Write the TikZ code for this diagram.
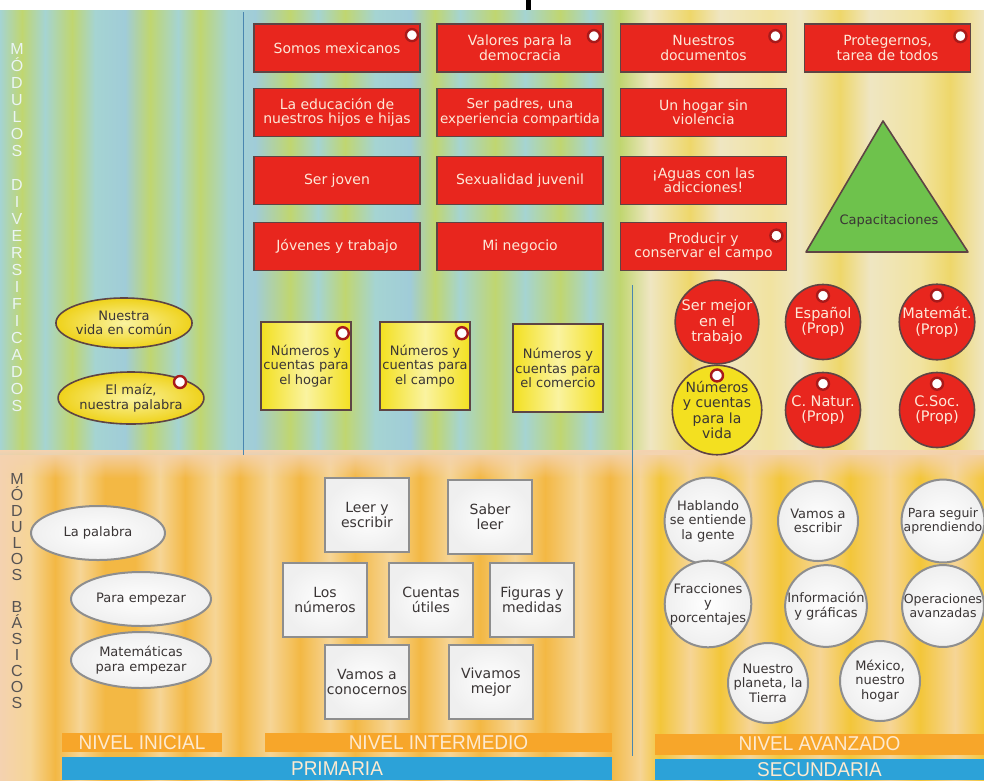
\documentclass[tikz,border=0pt]{standalone}
\usepackage{fontspec}
\setmainfont{DejaVu Sans}
\newfontfamily\barfont{Liberation Sans}[FakeStretch=0.95]
\newfontfamily\sidefont{Liberation Sans}
\usetikzlibrary{shapes.geometric,fadings}

% background tones
\definecolor{tealbg}{HTML}{A5D4D2}
\definecolor{bluebg}{HTML}{A0CCD8}
\definecolor{limebg}{HTML}{C0D670}
\definecolor{creambg}{HTML}{EFE6C2}
\definecolor{yellowbg}{HTML}{EED76A}
\definecolor{paleyel}{HTML}{F1E3A0}
\definecolor{orangebg}{HTML}{F3B844}
\definecolor{paleor}{HTML}{F6D596}
\definecolor{peachbg}{HTML}{F4D2B0}
\definecolor{yellowor}{HTML}{F3C63A}
% shape tones
\definecolor{redfill}{HTML}{E8261E}
\definecolor{edgedark}{HTML}{5E4444}
\definecolor{lighttext}{HTML}{FDE8D8}
\definecolor{darktext}{HTML}{3A3535}
\definecolor{markred}{HTML}{A81A1A}
\definecolor{yelfill}{HTML}{F3E020}
\definecolor{yellight}{HTML}{FAF3A0}
\definecolor{ovalyel}{HTML}{EFD21A}
\definecolor{trigreen}{HTML}{6EC24C}
\definecolor{graybord}{HTML}{8E8E8E}
\definecolor{whiteshade}{HTML}{EFEFEF}
\definecolor{barorange}{HTML}{F7A62A}
\definecolor{barblue}{HTML}{2CA2D8}
\definecolor{barcream}{HTML}{FDEAD0}
\definecolor{divblue}{HTML}{4A86B0}

\begin{document}
\begin{tikzpicture}[x=1pt,y=-1pt]
\tikzset{
  redbox/.style={rectangle, draw=edgedark, line width=1.8pt, fill=redfill,
    text=lighttext, font=\fontsize{14}{14.5}\selectfont, align=center,
    minimum width=166pt, minimum height=48pt, inner sep=1pt},
  marker/.style={circle, draw=markred, line width=2.4pt, fill=white,
    minimum size=12pt, inner sep=0pt},
  yellowsq/.style={rectangle, draw=edgedark, line width=1.6pt,
    left color=yelfill, right color=yelfill, middle color=yellight,
    text=darktext, font=\fontsize{13}{14.5}\selectfont, align=center,
    minimum width=90pt, minimum height=88pt, inner sep=1pt},
  yellowoval/.style={ellipse, draw=edgedark, line width=1.6pt,
    inner color=yellight, outer color=ovalyel,
    text=darktext, font=\fontsize{13}{14.5}\selectfont, align=center, inner sep=0pt},
  redcirc/.style={circle, draw=edgedark, line width=1.6pt, fill=redfill,
    text=lighttext, font=\fontsize{14.5}{15.5}\selectfont, align=center,
    minimum size=75pt, inner sep=0pt},
  yellowcirc/.style={redcirc, fill=yelfill, text=darktext, font=\fontsize{14}{15.5}\selectfont},
  whitebox/.style={rectangle, draw=graybord, line width=2pt,
    inner color=white, outer color=whiteshade,
    text=darktext, font=\fontsize{14}{15}\selectfont, align=center,
    minimum width=84pt, minimum height=74pt, inner sep=1pt},
  whiteoval/.style={ellipse, draw=graybord, line width=2pt,
    inner color=white, outer color=whiteshade,
    text=darktext, font=\fontsize{13}{15}\selectfont, align=center, inner sep=0pt},
  whitecirc/.style={circle, draw=graybord, line width=2pt,
    inner color=white, outer color=whiteshade,
    text=darktext, font=\fontsize{13}{14.5}\selectfont, align=center,
    minimum size=80pt, inner sep=0pt},
  levelbar/.style={rectangle, fill=barorange, text=barcream,
    font=\barfont\fontsize{20}{20}\selectfont, inner sep=0pt, minimum height=19pt},
  schoolbar/.style={rectangle, fill=barblue, text=barcream,
    font=\barfont\fontsize{20}{20}\selectfont, inner sep=0pt, minimum height=22pt},
  sidelabel/.style={align=center, inner sep=0pt, anchor=north},
  divline/.style={draw=divblue, line width=0.9pt}
}
\useasboundingbox (0,0) rectangle (984,780);

% ---------- background ----------
\fill[white] (0,0) rectangle (984,780);
\foreach \x/\c [remember=\x as \lx (initially 0), remember=\c as \lc (initially tealbg)] in
  {22/limebg, 45/tealbg, 72/limebg, 95/tealbg, 125/bluebg, 150/limebg, 178/tealbg,
   200/limebg, 228/tealbg, 255/bluebg, 290/limebg, 318/tealbg, 345/limebg, 375/tealbg,
   410/bluebg, 435/limebg, 460/tealbg, 495/limebg, 525/tealbg, 560/limebg, 590/tealbg,
   620/limebg, 650/creambg, 690/yellowbg, 720/creambg, 770/paleyel, 800/creambg,
   840/yellowbg, 870/creambg, 920/paleyel, 950/yellowbg, 984/creambg}
  {\shade[left color=\lc, right color=\c] (\lx,10) rectangle (\x,455);}
\foreach \x/\c [remember=\x as \lx (initially 0), remember=\c as \lc (initially peachbg)] in
  {30/paleor, 55/orangebg, 80/paleor, 105/orangebg, 135/orangebg, 160/paleor,
   185/orangebg, 215/paleor, 240/orangebg, 270/paleor, 300/orangebg, 330/paleor,
   355/orangebg, 390/paleor, 420/orangebg, 450/paleor, 480/orangebg, 515/paleor,
   545/orangebg, 580/paleor, 610/orangebg, 640/paleor, 660/yellowor, 690/paleor,
   720/yellowor, 750/paleor, 780/yellowor, 820/paleor, 850/yellowor, 890/paleor,
   920/yellowor, 955/paleor, 984/yellowor}
  {\shade[left color=\lc, right color=\c] (\lx,455) rectangle (\x,780);}
\fill[peachbg, path fading=south] (0,450) rectangle (984,478);
\fill[black] (526,0) rectangle (531,10);

% dividing lines
\draw[divline] (243,12) -- (243,455);
\draw[divline] (632,285) -- (632,756);

% ---------- side titles ----------
\node[sidelabel, text=white!92!teal, font=\sidefont\fontsize{16}{17}\selectfont] (lab1) at (17,43)
  {M\\Ó\\D\\U\\L\\O\\S\\[17pt]D\\I\\V\\E\\R\\S\\I\\F\\I\\C\\A\\D\\O\\S};
\node[sidelabel, text=darktext!85, font=\sidefont\fontsize{16}{16}\selectfont] (lab2) at (17,473)
  {M\\Ó\\D\\U\\L\\O\\S\\[16pt]B\\Á\\S\\I\\C\\O\\S};

% ---------- diversified modules: red boxes ----------
\node[redbox] (r11) at (337,48)    {Somos mexicanos};
\node[redbox] (r12) at (520,48)    {Valores para la\\democracia};
\node[redbox] (r13) at (703.5,48)  {Nuestros\\documentos};
\node[redbox] (r14) at (887.5,48)  {Protegernos,\\tarea de todos};
\node[redbox] (r21) at (337,112.5) {La educación de\\nuestros hijos e hijas};
\node[redbox, font=\fontsize{13.5}{14.5}\selectfont] (r22) at (520,112.5) {Ser padres, una\\experiencia compartida};
\node[redbox] (r23) at (703.5,112.5) {Un hogar sin\\violencia};
\node[redbox] (r31) at (337,180.5) {Ser joven};
\node[redbox] (r32) at (520,180.5) {Sexualidad juvenil};
\node[redbox] (r33) at (703.5,180.5) {¡Aguas con las\\adicciones!};
\node[redbox] (r41) at (337,246.5) {Jóvenes y trabajo};
\node[redbox] (r42) at (520,246.5) {Mi negocio};
\node[redbox] (r43) at (703.5,246.5) {Producir y\\conservar el campo};

\node[marker] (mk1) at ([xshift=-9pt,yshift=-12pt]r11.north east) {};
\node[marker] (mk2) at ([xshift=-10pt,yshift=-13pt]r12.north east) {};
\node[marker] (mk3) at ([xshift=-12pt,yshift=-13pt]r13.north east) {};
\node[marker] (mk4) at ([xshift=-11pt,yshift=-13pt]r14.north east) {};
\node[marker] (mk5) at ([xshift=-11pt,yshift=-14pt]r43.north east) {};

% training triangle
\coordinate (ta) at (883,121);
\coordinate (tb) at (806,252);
\coordinate (tc) at (968,252);
\fill[trigreen, draw=edgedark, line width=1.6pt, line join=round] (ta) -- (tb) -- (tc) -- cycle;
\node[text=darktext, font=\fontsize{13}{14}\selectfont] (cap) at (889,221) {Capacitaciones};

% yellow ovals
\node[yellowoval, minimum width=116pt, minimum height=50pt] (yo1) at (124,323) {Nuestra\\vida en común};
\node[yellowoval, minimum width=130pt, minimum height=52pt] (yo2) at (131,398) {El maíz,\\nuestra palabra};
\node[marker] (mk6) at ([xshift=49pt,yshift=16pt]yo2.center) {};

% yellow squares
\node[yellowsq] (ys1) at (306,366) {Números y\\cuentas para\\el hogar};
\node[yellowsq] (ys2) at (425,366) {Números y\\cuentas para\\el campo};
\node[yellowsq] (ys3) at (558,368) {Números y\\cuentas para\\el comercio};
\node[marker] (mk7) at ([xshift=-9pt,yshift=-12pt]ys1.north east) {};
\node[marker] (mk8) at ([xshift=-9pt,yshift=-12pt]ys2.north east) {};

% circles of the advanced level
\node[redcirc] (rc1) at (717,322) {Ser mejor\\en el\\trabajo};
\node[redcirc] (rc2) at (823,322) {Español\\(Prop)};
\node[redcirc] (rc3) at (937,322) {Matemát.\\(Prop)};
\node[yellowcirc] (rc4) at (717,410) {Números\\y cuentas\\para la\\vida};
\node[redcirc] (rc5) at (823,410) {C. Natur.\\(Prop)};
\node[redcirc] (rc6) at (937,410) {C.Soc.\\(Prop)};
\node[marker] (mk9)  at ([yshift=-12pt]rc2.north) {};
\node[marker] (mk10) at ([yshift=-12pt]rc3.north) {};
\node[marker] (mk11) at ([yshift=-11pt]rc4.north) {};
\node[marker] (mk12) at ([yshift=-12pt]rc5.north) {};
\node[marker] (mk13) at ([yshift=-12pt]rc6.north) {};

% ---------- basic modules ----------
\node[whiteoval, minimum width=134pt, minimum height=54pt] (wo1) at (98,533)  {La palabra};
\node[whiteoval, minimum width=140pt, minimum height=54pt] (wo2) at (141,599) {Para empezar};
\node[whiteoval, minimum width=140pt, minimum height=56pt] (wo3) at (141,660) {Matemáticas\\para empezar};

\node[whitebox] (wb1) at (367,515) {Leer y\\escribir};
\node[whitebox] (wb2) at (490,517) {Saber\\leer};
\node[whitebox] (wb3) at (325,600) {Los\\números};
\node[whitebox] (wb4) at (431,600) {Cuentas\\útiles};
\node[whitebox] (wb5) at (532,600) {Figuras y\\medidas};
\node[whitebox] (wb6) at (367,682) {Vamos a\\conocernos};
\node[whitebox] (wb7) at (491,682) {Vivamos\\mejor};

\node[whitecirc] (wc1) at (708,521) {Hablando\\se entiende\\la gente};
\node[whitecirc] (wc2) at (818,521) {Vamos a\\escribir};
\node[whitecirc, font=\fontsize{12.5}{14.5}\selectfont] (wc3) at (943,521) {Para seguir\\aprendiendo};
\node[whitecirc] (wc4) at (708,604) {Fracciones\\y\\porcentajes};
\node[whitecirc] (wc5) at (826,606) {Información\\y gráficas};
\node[whitecirc, font=\fontsize{12.5}{14.5}\selectfont] (wc6) at (943,606) {Operaciones\\avanzadas};
\node[whitecirc] (wc7) at (768,683) {Nuestro\\planeta, la\\Tierra};
\node[whitecirc] (wc8) at (880,681) {México,\\nuestro\\hogar};

% ---------- level and school bars ----------
\node[levelbar, minimum width=160pt] (b1) at (142,742.5)   {NIVEL INICIAL};
\node[levelbar, minimum width=347pt] (b2) at (438.5,742.5) {NIVEL INTERMEDIO};
\node[levelbar, minimum width=329pt, minimum height=21pt] (b3) at (819.5,744) {NIVEL AVANZADO};
\node[schoolbar, minimum width=550pt, minimum height=23pt] (b4) at (337,768.5) {PRIMARIA};
\node[schoolbar, minimum width=329pt, minimum height=21pt] (b5) at (819.5,769.5) {SECUNDARIA};
\end{tikzpicture}
\end{document}
